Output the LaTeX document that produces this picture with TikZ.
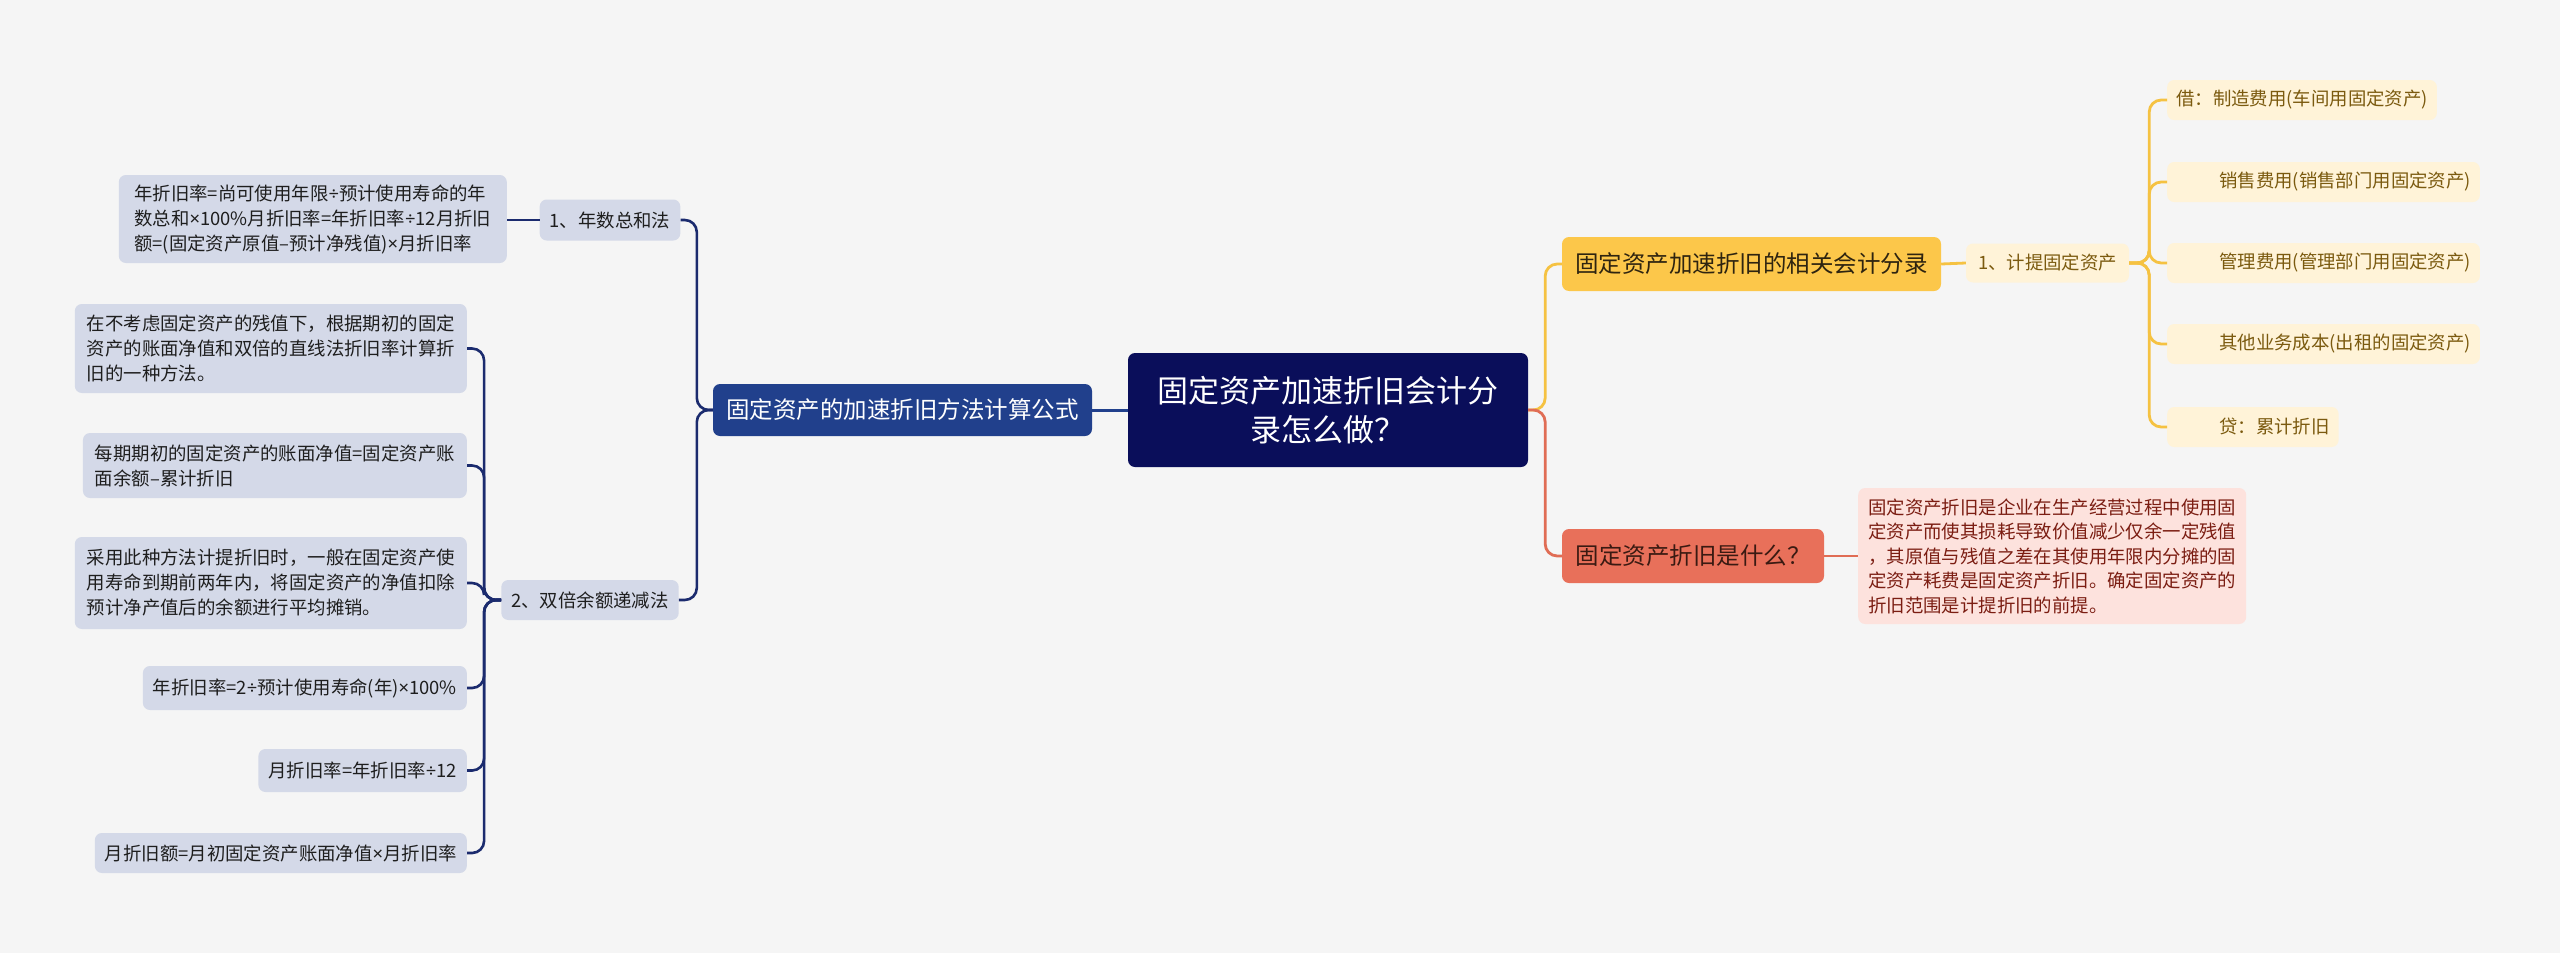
\documentclass[tikz,border=0pt]{standalone}
\usepackage{fontspec}
\setmainfont{Noto Sans CJK SC}
\newfontfamily\narrowsym{Noto Sans}
\newcommand{\mytimes}{{\narrowsym ×}}
\newcommand{\mydiv}{{\narrowsym ÷}}
\usetikzlibrary{calc}
\definecolor{bg}{HTML}{F5F5F5}
\definecolor{rootc}{HTML}{0A0E5A}
\definecolor{lmc}{HTML}{21408C}
\definecolor{navy}{HTML}{1B2B6E}
\definecolor{lav}{HTML}{D4D9E8}
\definecolor{lavtext}{HTML}{1E1E1E}
\definecolor{ymain}{HTML}{FCC74A}
\definecolor{ymtext}{HTML}{2E2410}
\definecolor{ylight}{HTML}{FFF3D8}
\definecolor{ytext}{HTML}{7B5A0F}
\definecolor{yline}{HTML}{F5C242}
\definecolor{rmain}{HTML}{E8705A}
\definecolor{rmtext}{HTML}{3A1A12}
\definecolor{rlight}{HTML}{FDE2DD}
\definecolor{rtext}{HTML}{7B1D12}
\definecolor{rline}{HTML}{E06D55}
\tikzset{
  box/.style={rounded corners=7pt, inner xsep=10pt, inner ysep=0pt, font=\fontsize{18.4}{25}\selectfont, align=left},
  lavbox/.style={box, fill=lav, text=lavtext},
  ybox/.style={box, fill=ylight, text=ytext, inner xsep=9pt, minimum height=40pt},
  mainbox/.style={rounded corners=7pt, inner sep=0pt, font=\fontsize{23.5}{28}\selectfont, minimum height=53pt},
  navyln/.style={draw=navy, line width=2.6pt, rounded corners=12pt},
  blueln/.style={draw=lmc, line width=3pt},
  yln/.style={draw=yline, line width=2.8pt, rounded corners=12pt},
  rln/.style={draw=rline, line width=2.8pt, rounded corners=12pt},
}
\begin{document}
\begin{tikzpicture}[x=1pt,y=-1pt]
\fill[bg] (0,0) rectangle (2560,953);
\useasboundingbox (0,0) rectangle (2560,953);

% root
\node[fill=rootc, text=white, rounded corners=7pt, inner sep=0pt, minimum width=400pt, minimum height=114pt, align=center, font=\fontsize{31}{39}\selectfont] (root) at (1328,410) {固定资产加速折旧会计分\\录怎么做？};

% left side
\node[mainbox, fill=lmc, text=white, minimum width=379pt, minimum height=52pt] (lm) at (902.5,410) {固定资产的加速折旧方法计算公式};
\node[lavbox, minimum width=136pt, minimum height=41pt, align=center] (n1) at (610,220) {1、年数总和法};
\node[lavbox, minimum width=176pt, minimum height=40pt, align=center] (n2) at (590,600) {2、双倍余额递减法};

\node[lavbox, anchor=east, minimum height=88pt, minimum width=388pt, inner xsep=12pt] (A) at (507,219) {年折旧率=尚可使用年限\mydiv 预计使用寿命的年\\数总和\mytimes 100\%月折旧率=年折旧率\mydiv 12月折旧\\额=(固定资产原值–预计净残值)\mytimes 月折旧率};

\node[lavbox, anchor=east, minimum height=89pt, inner xsep=12pt] (B1) at (467,348.5) {在不考虑固定资产的残值下，根据期初的固定\\资产的账面净值和双倍的直线法折旧率计算折\\旧的一种方法。};
\node[lavbox, anchor=east, minimum height=65pt, inner xsep=12pt] (B2) at (467,465.5) {每期期初的固定资产的账面净值=固定资产账\\面余额–累计折旧};
\node[lavbox, anchor=east, minimum height=92pt, inner xsep=12pt] (B3) at (467,583) {采用此种方法计提折旧时，一般在固定资产使\\用寿命到期前两年内，将固定资产的净值扣除\\预计净产值后的余额进行平均摊销。};
\node[lavbox, anchor=east, minimum height=44pt] (B4) at (467,688) {年折旧率=2\mydiv 预计使用寿命(年)\mytimes 100\%};
\node[lavbox, anchor=east, minimum height=43pt] (B5) at (467,770.5) {月折旧率=年折旧率\mydiv 12};
\node[lavbox, anchor=east, minimum height=40pt] (B6) at (467,853) {月折旧额=月初固定资产账面净值\mytimes 月折旧率};

% right side
\node[mainbox, fill=ymain, text=ymtext, minimum width=379pt, minimum height=54pt] (ym) at (1751.5,264) {固定资产加速折旧的相关会计分录};
\node[ybox, minimum width=163pt, minimum height=39pt, align=center] (y1) at (2047.5,263) {1、计提固定资产};
\node[ybox, anchor=west] (C1) at (2167,100) {借：制造费用(车间用固定资产)};
\node[ybox, anchor=west] (C2) at (2167,182) {\hspace*{43pt}销售费用(销售部门用固定资产)};
\node[ybox, anchor=west] (C3) at (2167,263) {\hspace*{43pt}管理费用(管理部门用固定资产)};
\node[ybox, anchor=west] (C4) at (2167,344) {\hspace*{43pt}其他业务成本(出租的固定资产)};
\node[ybox, anchor=west] (C5) at (2167,427) {\hspace*{43pt}贷：累计折旧};

\node[mainbox, fill=rmain, text=rmtext, minimum width=262pt, minimum height=54pt] (rm) at (1693,556) {固定资产折旧是什么？};
\node[box, fill=rlight, text=rtext, anchor=west, minimum height=136pt, font=\fontsize{18.4}{24.5}\selectfont] (rc) at (1858,556) {固定资产折旧是企业在生产经营过程中使用固\\定资产而使其损耗导致价值减少仅余一定残值\\，其原值与残值之差在其使用年限内分摊的固\\定资产耗费是固定资产折旧。确定固定资产的\\折旧范围是计提折旧的前提。};

% connectors left
\draw[blueln] (lm.east) -- (root.west);
\draw[navyln] (lm.west) -- ++(-16,0) |- (n1.east);
\draw[navyln] (lm.west) -- ++(-16,0) |- (n2.east);
\draw[navyln] (n1.west) -- (A.east |- n1.west);
\foreach \b in {B1,B2,B3,B4,B5,B6}{
  \draw[navyln] (n2.west) -- ++(-17,0) |- (\b.east);
}

% connectors right
\draw[yln] (root.east) -- ++(17,0) |- (ym.west);
\draw[rln] (root.east) -- ++(17,0) |- (rm.west);
\draw[yln] (ym.east) -- (y1.west);
\foreach \c in {C1,C2,C3,C4,C5}{
  \draw[yln] (y1.east) -- ++(20,0) |- (\c.west);
}
\draw[rln] (rm.east) -- (rc.west);
\end{tikzpicture}
\end{document}
